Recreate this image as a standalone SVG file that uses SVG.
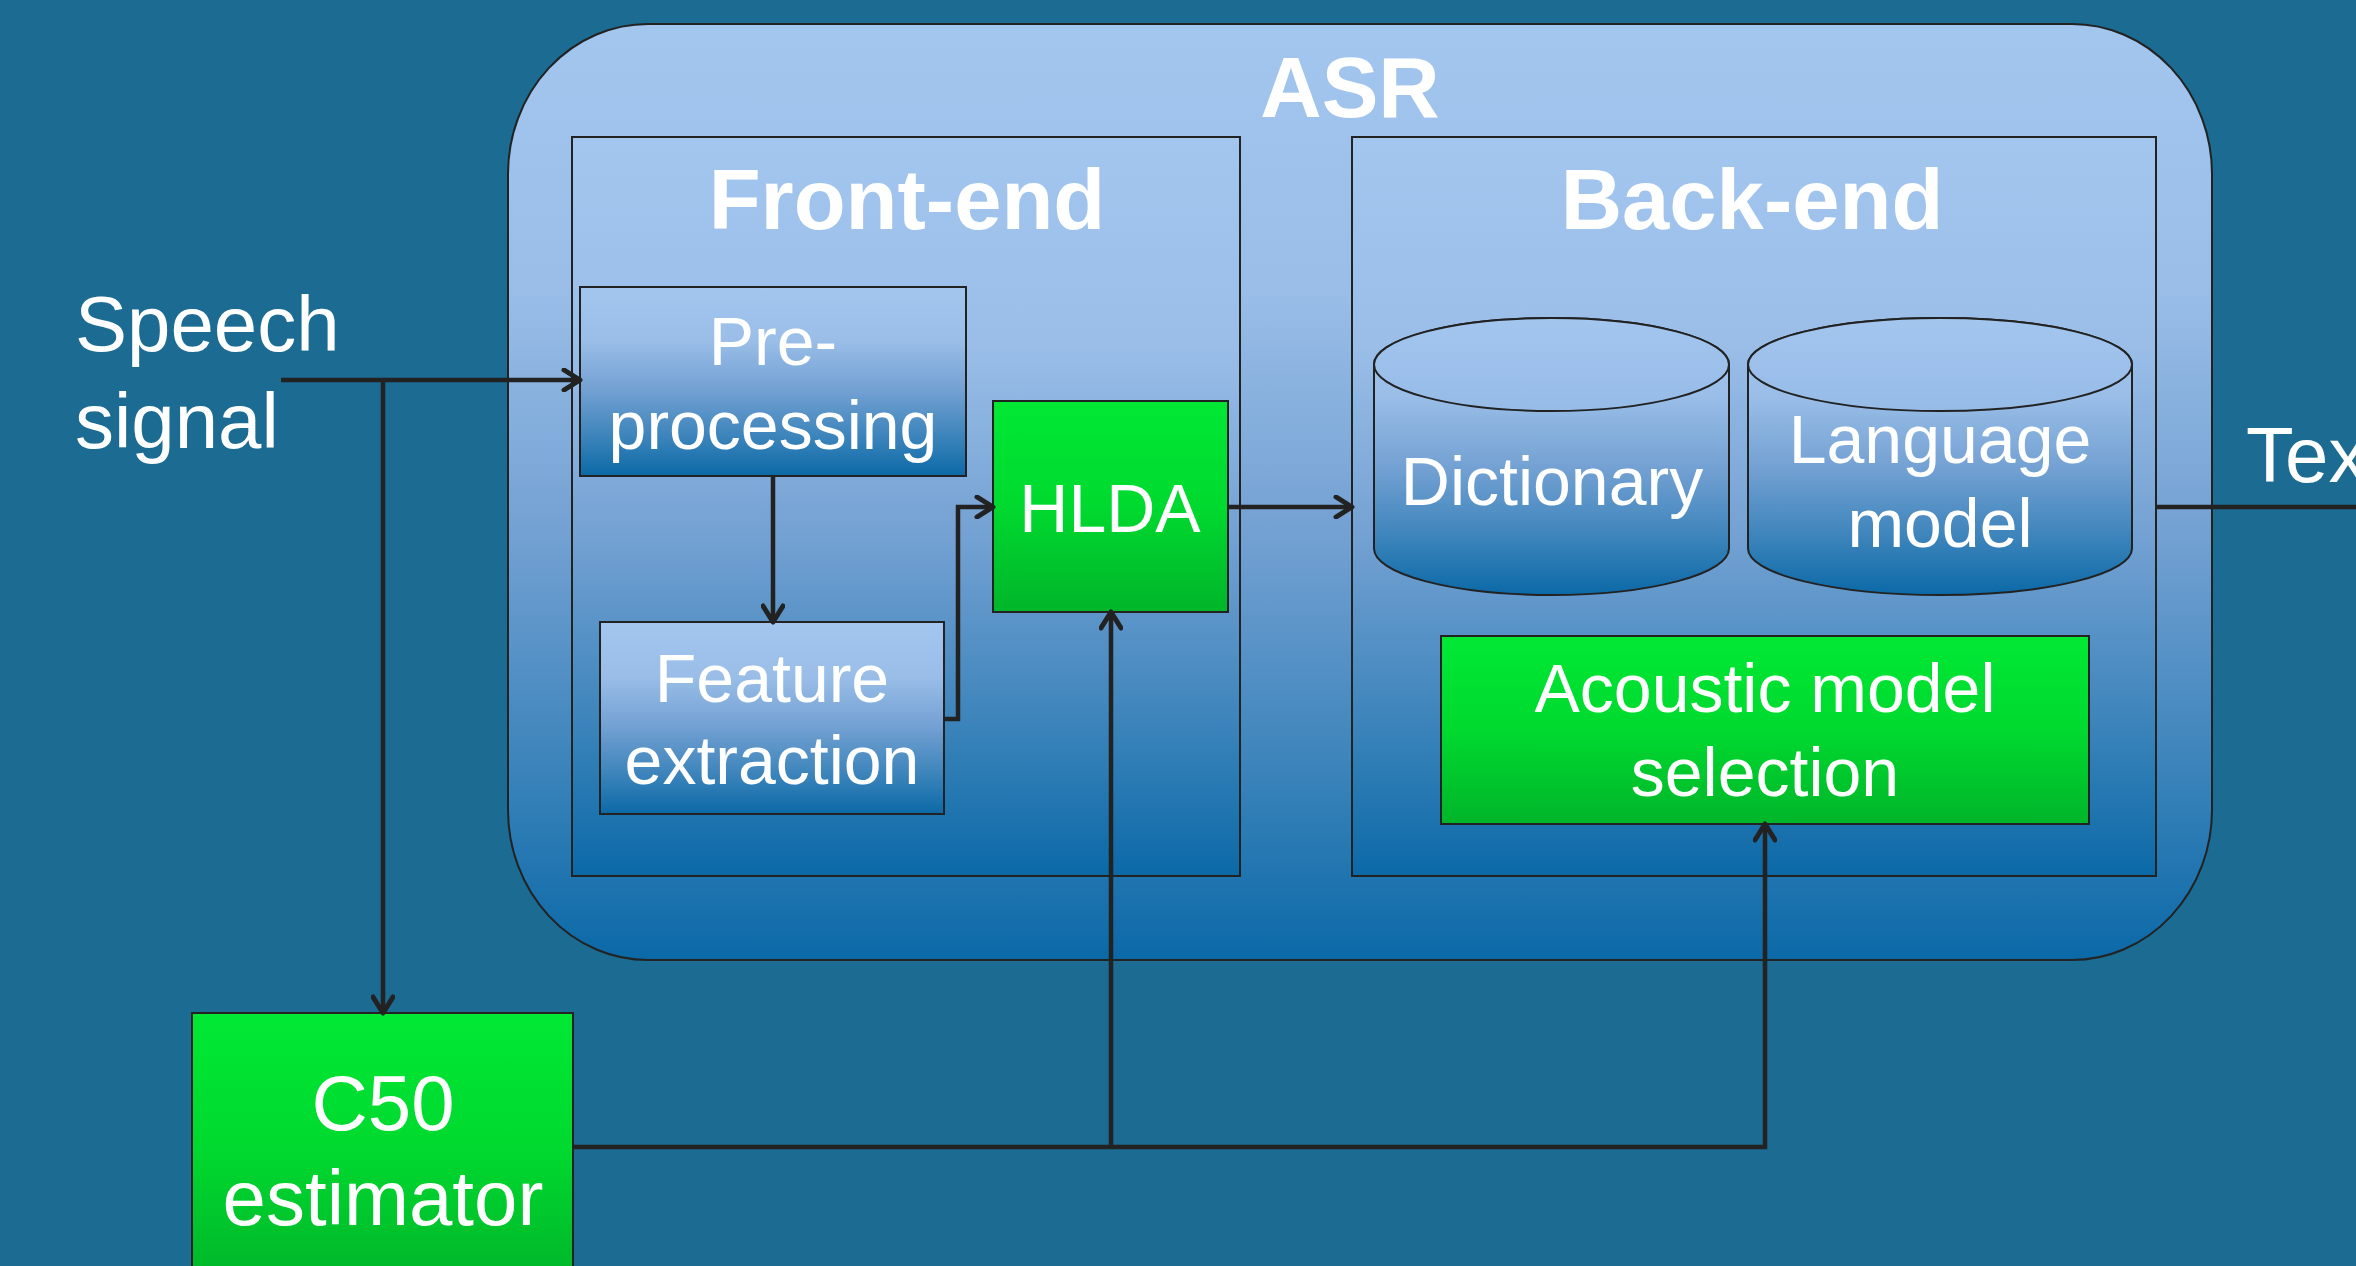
<svg xmlns="http://www.w3.org/2000/svg" width="2356" height="1266" viewBox="0 0 2356 1266">
<defs>
<linearGradient id="gBlue" x1="0" y1="0" x2="0" y2="1">
<stop offset="0" stop-color="#a3c6ef"/>
<stop offset="0.28" stop-color="#9abee8"/>
<stop offset="0.55" stop-color="#72a0d2"/>
<stop offset="0.8" stop-color="#3a83ba"/>
<stop offset="1" stop-color="#0b69a7"/>
</linearGradient>
<linearGradient id="gGreen" x1="0" y1="0" x2="0" y2="1">
<stop offset="0" stop-color="#00e834"/>
<stop offset="0.5" stop-color="#00d92f"/>
<stop offset="1" stop-color="#00b52a"/>
</linearGradient>
<linearGradient id="gTop" x1="0" y1="0" x2="0" y2="1">
<stop offset="0" stop-color="#a3c6ef"/>
<stop offset="1" stop-color="#96bbe7"/>
</linearGradient>
<marker id="arr" viewBox="0 0 24 24" markerWidth="24" markerHeight="24" markerUnits="userSpaceOnUse" refX="20" refY="12" orient="auto">
<path d="M4,2 L20,12 L4,22" fill="none" stroke="#222" stroke-width="5" stroke-linecap="round" stroke-linejoin="round"/>
</marker>
<style>
.box{fill:url(#gBlue);stroke:#222;stroke-width:2}
.green{fill:url(#gGreen);stroke:#222;stroke-width:2}
.t{font-family:"Liberation Sans",Arial,sans-serif;fill:#fff;text-anchor:middle}
.lbl{font-size:68px}
.big{font-size:78px}
.hdr{font-size:85px;font-weight:bold}
.conn{fill:none;stroke:#222;stroke-width:4.5}
</style>
</defs>
<rect width="2356" height="1266" fill="#1b6b93"/>

<g id="asr">
<path class="box" stroke-width="2.5" d="M648,24 H2072 A140,150 0 0 1 2212,174 V810 A140,150 0 0 1 2072,960 H648 A140,150 0 0 1 508,810 V174 A140,150 0 0 1 648,24 Z"/>
<text class="t hdr" x="1350" y="117" font-size="86">ASR</text>
</g>

<g id="front-end">
<rect class="box" x="572" y="137" width="668" height="739"/>
<text class="t hdr" x="907" y="229">Front-end</text>
</g>

<g id="back-end">
<rect class="box" x="1352" y="137" width="804" height="739"/>
<text class="t hdr" x="1752" y="229">Back-end</text>
</g>

<g id="pre-processing">
<rect class="box" x="580" y="287" width="386" height="189"/>
<text class="t lbl" x="773" y="365">Pre-</text>
<text class="t lbl" x="773" y="449">processing</text>
</g>

<g id="feature-extraction">
<rect class="box" x="600" y="622" width="344" height="192"/>
<text class="t lbl" x="772" y="702">Feature</text>
<text class="t lbl" x="772" y="784">extraction</text>
</g>

<g id="hlda">
<rect class="green" x="993" y="401" width="235" height="211"/>
<text class="t lbl" x="1110" y="532">HLDA</text>
</g>

<g id="dictionary">
<path class="box" d="M1374,364.5 A177.5,46.5 0 0 1 1729,364.5 V548.5 A177.5,46.5 0 0 1 1374,548.5 Z"/>
<ellipse cx="1551.5" cy="364.5" rx="177.5" ry="46.5" fill="url(#gTop)" stroke="#222" stroke-width="2"/>
<text class="t lbl" x="1552" y="505">Dictionary</text>
</g>

<g id="language-model">
<path class="box" d="M1748,364.5 A192,46.5 0 0 1 2132,364.5 V548.5 A192,46.5 0 0 1 1748,548.5 Z"/>
<ellipse cx="1940" cy="364.5" rx="192" ry="46.5" fill="url(#gTop)" stroke="#222" stroke-width="2"/>
<text class="t lbl" x="1940" y="463">Language</text>
<text class="t lbl" x="1940" y="547">model</text>
</g>

<g id="acoustic-model-selection">
<rect class="green" x="1441" y="636" width="648" height="188"/>
<text class="t lbl" x="1765" y="712">Acoustic model</text>
<text class="t lbl" x="1765" y="796">selection</text>
</g>

<g id="c50-estimator">
<rect class="green" x="192" y="1013" width="381" height="270"/>
<text class="t big" x="383" y="1130">C50</text>
<text class="t big" x="383" y="1225">estimator</text>
</g>

<g id="speech-signal">
<text class="t big" x="75" y="351" style="text-anchor:start">Speech</text>
<text class="t big" x="75" y="448" style="text-anchor:start">signal</text>
</g>

<g id="text-out">
<text class="t big" x="2246" y="482" style="text-anchor:start">Text</text>
</g>

<g id="connectors">
<path class="conn" d="M281,380 H580" marker-end="url(#arr)"/>
<path class="conn" d="M383,380 V1013" stroke-width="4" marker-end="url(#arr)"/>
<path class="conn" d="M773,476 V622" marker-end="url(#arr)"/>
<path class="conn" d="M944,719 H958 V507 H993" marker-end="url(#arr)"/>
<path class="conn" d="M1228,507 H1352" marker-end="url(#arr)"/>
<path class="conn" d="M2156,507 H2356"/>
<path class="conn" d="M573,1147 H1765 V824" stroke-width="5" marker-end="url(#arr)"/>
<path class="conn" d="M1111,1147 V612" stroke-width="4" marker-end="url(#arr)"/>
</g>
</svg>
